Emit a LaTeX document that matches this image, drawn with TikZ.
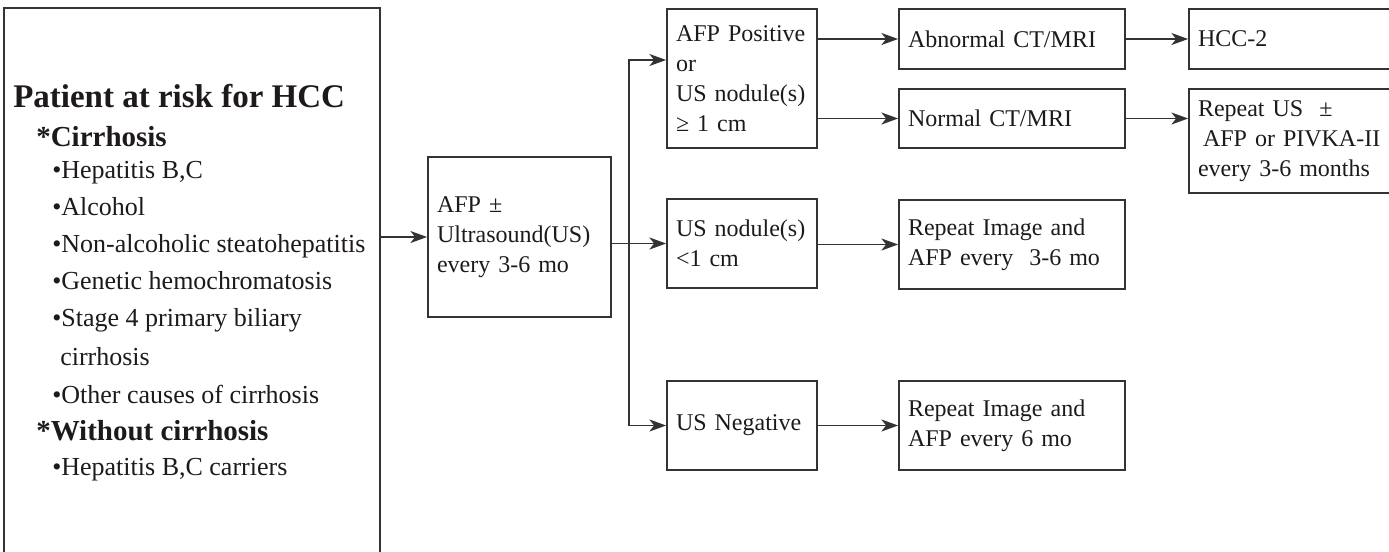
\documentclass[tikz,border=0pt]{standalone}
\usepackage{fontspec}
\setmainfont{Liberation Serif}
\usetikzlibrary{arrows.meta,calc}
\definecolor{ln}{HTML}{333333}
\definecolor{tx}{HTML}{1E1A1B}
\tikzset{
  box/.style={draw=ln, line width=1.35pt, text=tx, inner xsep=6.75pt, inner ysep=0pt,
    align=left, font=\fontsize{18}{22.5}\selectfont},
  arr/.style={draw=ln, line width=1.35pt, -{Stealth[length=12.5pt,width=9pt,inset=3.5pt]}},
  lt/.style={anchor=base west, text=tx, inner sep=0pt, font=\fontsize{19.5}{22}\selectfont},
  lsub/.style={anchor=base west, text=tx, inner sep=0pt, font=\fontsize{21.75}{24}\selectfont\bfseries},
  ltitle/.style={anchor=base west, text=tx, inner sep=0pt, font=\fontsize{24.75}{28}\selectfont\bfseries},
}
\begin{document}
\begin{tikzpicture}[x=0.75pt,y=-0.75pt]
\useasboundingbox (0,0) rectangle (1389,551);
% left box
\node[draw=ln, line width=1.35pt, minimum width=282pt, minimum height=425.25pt, inner sep=0pt] (big) at (192,291.5) {};
\node[ltitle] (t0) at (13,107) {Patient at risk for HCC};
\node[lsub] (t1) at (36,146) {*Cirrhosis};
\node[lt] (t2) at (52,178) {•Hepatitis B,C};
\node[lt] (t3) at (52,215) {•Alcohol};
\node[lt] (t4) at (52,252) {•Non-alcoholic steatohepatitis};
\node[lt] (t5) at (52,289) {•Genetic hemochromatosis};
\node[lt] (t6) at (52,326) {•Stage 4 primary biliary};
\node[lt] (t7) at (60,365) {cirrhosis};
\node[lt] (t8) at (52,403) {•Other causes of cirrhosis};
\node[lsub] (t9) at (36,440) {*Without cirrhosis};
\node[lt] (t10) at (52,475) {•Hepatitis B,C carriers};
% middle
\node[box, minimum width=137.25pt, text width=123.75pt, minimum height=120pt] (afp) at (519.5,237)
  {AFP ±\\Ultrasound(US)\\every 3-6 mo};
\node[box, minimum width=112.5pt, text width=99pt, minimum height=104.25pt] (pos) at (742,78.5)
  {AFP Positive\\or\\US nodule(s)\\≥ 1 cm};
\node[box, minimum width=112.5pt, text width=99pt, minimum height=66.75pt] (small) at (742,243.5)
  {US nodule(s)\\<1 cm};
\node[box, minimum width=112.5pt, text width=99pt, minimum height=66.75pt] (neg) at (742,425.5)
  {US Negative};
\node[box, minimum width=169.5pt, text width=156pt, minimum height=45pt] (abn) at (1012,39)
  {Abnormal CT/MRI};
\node[box, minimum width=169.5pt, text width=156pt, minimum height=44.25pt] (norm) at (1012,118.5)
  {Normal CT/MRI};
\node[box, minimum width=169.5pt, text width=156pt, minimum height=66.75pt] (rep1) at (1012,244.5)
  {Repeat Image and\\AFP every\ \ 3-6 mo};
\node[box, minimum width=169.5pt, text width=156pt, minimum height=66.75pt] (rep2) at (1012,425.5)
  {Repeat Image and\\AFP every 6 mo};
\node[box, minimum width=173.25pt, text width=159.75pt, minimum height=45pt] (hcc) at (1304.5,39)
  {HCC-2};
\node[box, minimum width=173.25pt, text width=159.75pt, minimum height=78pt] (repus) at (1304.5,141)
  {Repeat US\ \ ±\\\hspace*{3.75pt}AFP or PIVKA-II\\every 3-6 months};
% connectors
\coordinate (jn) at (629,243.5);
\draw[arr] (afp.west -| big.east) -- (afp.west);
\draw[arr] (small.west -| afp.east) -- (small.west);
\draw[arr] (jn) |- ($(pos.west)+(0,-18.5)$);
\draw[arr] (jn) |- (neg.west);
\draw[arr] (abn.west -| pos.east) -- (abn.west);
\draw[arr] (norm.west -| pos.east) -- (norm.west);
\draw[arr] (rep1.west -| small.east) -- (rep1.west);
\draw[arr] (neg.east) -- (rep2.west);
\draw[arr] (abn.east) -- (abn.east -| hcc.west);
\draw[arr] (norm.east) -- (norm.east -| repus.west);
\end{tikzpicture}
\end{document}
